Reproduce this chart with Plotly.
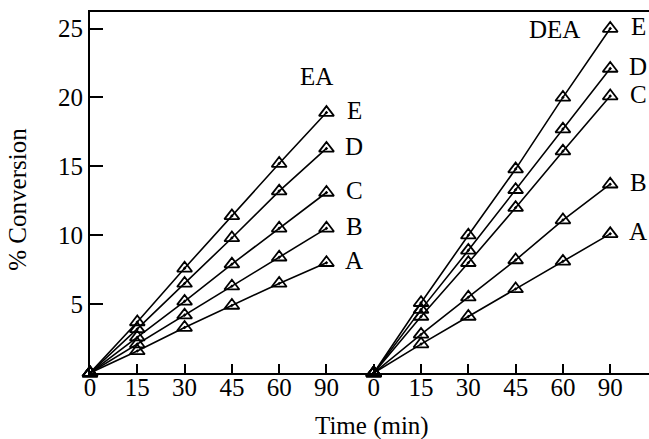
import plotly.graph_objects as go

times = [0, 15, 30, 45, 60, 90]
series_names = ["A", "B", "C", "D", "E"]

ea_A = [0, 1.6, 3.3, 4.9, 6.5, 8.0]
ea_B = [0, 2.1, 4.2, 6.3, 8.4, 10.5]
ea_C = [0, 2.6, 5.2, 7.9, 10.5, 13.1]
ea_D = [0, 3.2, 6.5, 9.8, 13.2, 16.3]
ea_E = [0, 3.7, 7.6, 11.4, 15.2, 18.9]

dea_A = [0, 2.1, 4.1, 6.1, 8.1, 10.1]
dea_B = [0, 2.8, 5.5, 8.2, 11.1, 13.7]
dea_C = [0, 4.1, 8.0, 12.0, 16.1, 20.1]
dea_D = [0, 4.6, 8.9, 13.3, 17.7, 22.1]
dea_E = [0, 5.1, 10.0, 14.8, 20.0, 25.0]

y_ticks = [5, 10, 15, 20, 25]
panels = [("EA", [ea_A, ea_B, ea_C, ea_D, ea_E]),
          ("DEA", [dea_A, dea_B, dea_C, dea_D, dea_E])]

FONT = "Liberation Serif"
FS = 25
fig = go.Figure()

n = len(times)
tickvals, ticktext = [], []
for p, (pname, data) in enumerate(panels):
    xs = [i + p * n for i in range(n)]
    tickvals += xs
    ticktext += [str(t) for t in times]
    for name, ys in zip(series_names, data):
        fig.add_trace(go.Scatter(
            x=xs, y=ys, mode="lines+markers",
            line=dict(color="black", width=1.6),
            marker=dict(symbol="triangle-up-open-dot", size=13,
                        color="black", line=dict(color="black", width=1.8)),
            showlegend=False, cliponaxis=False))
        fig.add_annotation(x=xs[-1], y=ys[-1], text=name, showarrow=False,
                           xshift=28, yshift=2,
                           font=dict(family=FONT, size=FS, color="black"))

fig.add_annotation(x=4.78, y=21.5, text="EA", showarrow=False,
                   font=dict(family=FONT, size=FS, color="black"))
fig.add_annotation(x=9.83, y=24.9, text="DEA", showarrow=False,
                   font=dict(family=FONT, size=FS, color="black"))

# axis titles
fig.add_annotation(xref="paper", yref="paper", x=0.505, y=0, yshift=-53,
                   xanchor="center", yanchor="middle",
                   text="Time (min)", showarrow=False,
                   font=dict(family=FONT, size=FS, color="black"))
fig.add_annotation(xref="paper", yref="paper", x=0, xshift=-72, y=0.48,
                   xanchor="center", yanchor="middle",
                   text="% Conversion", showarrow=False, textangle=-90,
                   font=dict(family=FONT, size=FS, color="black"))

fig.update_layout(
    width=649, height=439,
    margin=dict(l=90, r=0, t=12, b=66),
    paper_bgcolor="white", plot_bgcolor="white",
    font=dict(family=FONT, size=FS, color="black"),
    xaxis=dict(range=[0, 11.82], tickvals=tickvals, ticktext=ticktext,
               automargin=False, ticklabelstandoff=-9,
               showgrid=False, zeroline=False, showline=True, mirror=True,
               linecolor="black", linewidth=2, ticks="inside", ticklen=9,
               tickwidth=1.5, tickcolor="black",
               tickfont=dict(family=FONT, size=FS)),
    yaxis=dict(range=[0, 26.2], tickvals=y_ticks, automargin=False,
               showgrid=False, zeroline=False, showline=True,
               linecolor="black", linewidth=2, ticks="inside", ticklen=13,
               tickwidth=1.5, tickcolor="black",
               tickfont=dict(family=FONT, size=FS)),
)

fig.write_html("out.html", config={"displayModeBar": False},
               post_script="document.body.style.margin='0';document.body.style.padding='0';")
